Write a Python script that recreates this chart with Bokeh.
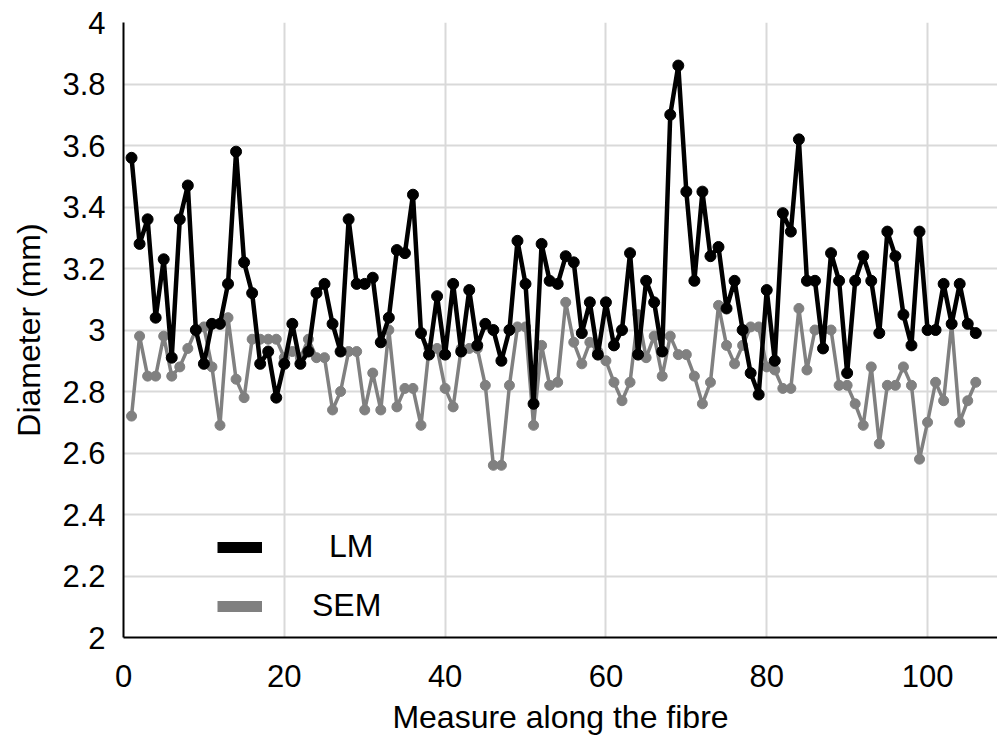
from bokeh.plotting import figure
from bokeh.models import Range1d, FixedTicker, Legend, LegendItem
from bokeh.embed import file_html
from bokeh.resources import INLINE

# ---------------- data ----------------
measure = list(range(1, 107))

lm = [3.56, 3.28, 3.36, 3.04, 3.23, 2.91, 3.36, 3.47, 3.00, 2.89,
      3.02, 3.02, 3.15, 3.58, 3.22, 3.12, 2.89, 2.93, 2.78, 2.89,
      3.02, 2.89, 2.93, 3.12, 3.15, 3.02, 2.93, 3.36, 3.15, 3.15,
      3.17, 2.96, 3.04, 3.26, 3.25, 3.44, 2.99, 2.92, 3.11, 2.92,
      3.15, 2.93, 3.13, 2.95, 3.02, 3.00, 2.90, 3.00, 3.29, 3.15,
      2.76, 3.28, 3.16, 3.15, 3.24, 3.22, 2.99, 3.09, 2.92, 3.09,
      2.95, 3.00, 3.25, 2.92, 3.16, 3.09, 2.93, 3.70, 3.86, 3.45,
      3.16, 3.45, 3.24, 3.27, 3.07, 3.16, 3.00, 2.86, 2.79, 3.13,
      2.90, 3.38, 3.32, 3.62, 3.16, 3.16, 2.94, 3.25, 3.16, 2.86,
      3.16, 3.24, 3.16, 2.99, 3.32, 3.24, 3.05, 2.95, 3.32, 3.00,
      3.00, 3.15, 3.02, 3.15, 3.02, 2.99]

sem = [2.72, 2.98, 2.85, 2.85, 2.98, 2.85, 2.88, 2.94, 3.00, 3.01,
       2.88, 2.69, 3.04, 2.84, 2.78, 2.97, 2.97, 2.97, 2.97, 2.91,
       2.93, 2.91, 2.97, 2.91, 2.91, 2.74, 2.80, 2.93, 2.93, 2.74,
       2.86, 2.74, 3.00, 2.75, 2.81, 2.81, 2.69, 2.94, 2.94, 2.81,
       2.75, 2.94, 2.94, 2.94, 2.82, 2.56, 2.56, 2.82, 3.01, 3.01,
       2.69, 2.95, 2.82, 2.83, 3.09, 2.96, 2.89, 2.96, 2.93, 2.90,
       2.83, 2.77, 2.83, 3.05, 2.91, 2.98, 2.85, 2.98, 2.92, 2.92,
       2.85, 2.76, 2.83, 3.08, 2.95, 2.89, 2.95, 3.01, 3.01, 2.88,
       2.87, 2.81, 2.81, 3.07, 2.87, 3.00, 3.00, 3.00, 2.82, 2.82,
       2.76, 2.69, 2.88, 2.63, 2.82, 2.82, 2.88, 2.82, 2.58, 2.70,
       2.83, 2.77, 3.02, 2.70, 2.77, 2.83]

x_ticks = [0, 20, 40, 60, 80, 100]
y_ticks = [2.0, 2.2, 2.4, 2.6, 2.8, 3.0, 3.2, 3.4, 3.6, 3.8, 4.0]
y_tick_labels = ["2", "2.2", "2.4", "2.6", "2.8", "3", "3.2", "3.4", "3.6", "3.8", "4"]

series_names = ["LM", "SEM"]
series_colors = ["#000000", "#808080"]

FONT = "Liberation Sans"
TICK_SIZE = "31px"
TITLE_SIZE = "32px"

# ---------------- figure ----------------
p = figure(width=997, height=742, output_backend="svg", toolbar_location=None,
           x_range=Range1d(0, 108.7), y_range=Range1d(2, 4),
           min_border_left=123, min_border_right=0, min_border_top=22,
           min_border_bottom=105)
p.outline_line_color = None
p.background_fill_color = "white"
p.border_fill_color = "white"

# grid
p.xgrid.ticker = FixedTicker(ticks=x_ticks)
p.ygrid.ticker = FixedTicker(ticks=y_ticks)
for g in (p.xgrid, p.ygrid):
    g.grid_line_color = "#d9d9d9"
    g.grid_line_width = 2

# axes
p.xaxis.ticker = FixedTicker(ticks=x_ticks)
p.yaxis.ticker = FixedTicker(ticks=y_ticks)
p.yaxis.major_label_overrides = {t: s for t, s in zip(y_ticks, y_tick_labels)}
for ax in (p.xaxis, p.yaxis):
    ax.axis_line_color = "black"
    ax.axis_line_width = 2
    ax.major_tick_line_color = None
    ax.minor_tick_line_color = None
    ax.major_tick_out = 0
    ax.major_tick_in = 0
    ax.major_label_text_font = FONT
    ax.major_label_text_font_size = TICK_SIZE
    ax.major_label_text_color = "#000000"
    ax.axis_label_text_font = FONT
    ax.axis_label_text_font_size = TITLE_SIZE
    ax.axis_label_text_font_style = "normal"
    ax.axis_label_text_color = "#000000"
p.xaxis.axis_label = "Measure along the fibre"
p.yaxis.axis_label = "Diameter (mm)"
p.xaxis.major_label_standoff = 27
p.xaxis.axis_label_standoff = 9
p.yaxis.major_label_standoff = 18
p.yaxis.axis_label_standoff = 12

# series: SEM first (underneath), then LM
p.line(measure, sem, line_color=series_colors[1], line_width=3.5)
p.scatter(measure, sem, size=10, fill_color=series_colors[1], line_color=series_colors[1])
p.line(measure, lm, line_color=series_colors[0], line_width=4.5)
p.scatter(measure, lm, size=11, fill_color=series_colors[0], line_color=series_colors[0])

# legend swatches (no data drawn)
nan = float("nan")
sw_lm = p.line([nan], [nan], line_color=series_colors[0], line_width=11)
sw_sem = p.line([nan], [nan], line_color=series_colors[1], line_width=11)

def make_legend(name, rend, loc, standoff):
    lg = Legend(items=[LegendItem(label=name, renderers=[rend])], location=loc,
                padding=0, margin=0, border_line_color=None,
                background_fill_alpha=0, glyph_width=45, glyph_height=34,
                label_height=34, label_standoff=standoff,
                label_text_font=FONT, label_text_font_size=TITLE_SIZE,
                label_text_color="#000000")
    p.add_layout(lg, "center")

make_legend(series_names[0], sw_lm, (94, 72), 67)
make_legend(series_names[1], sw_sem, (94, 13), 50)

open("out.html", "w").write(file_html(p, INLINE))
